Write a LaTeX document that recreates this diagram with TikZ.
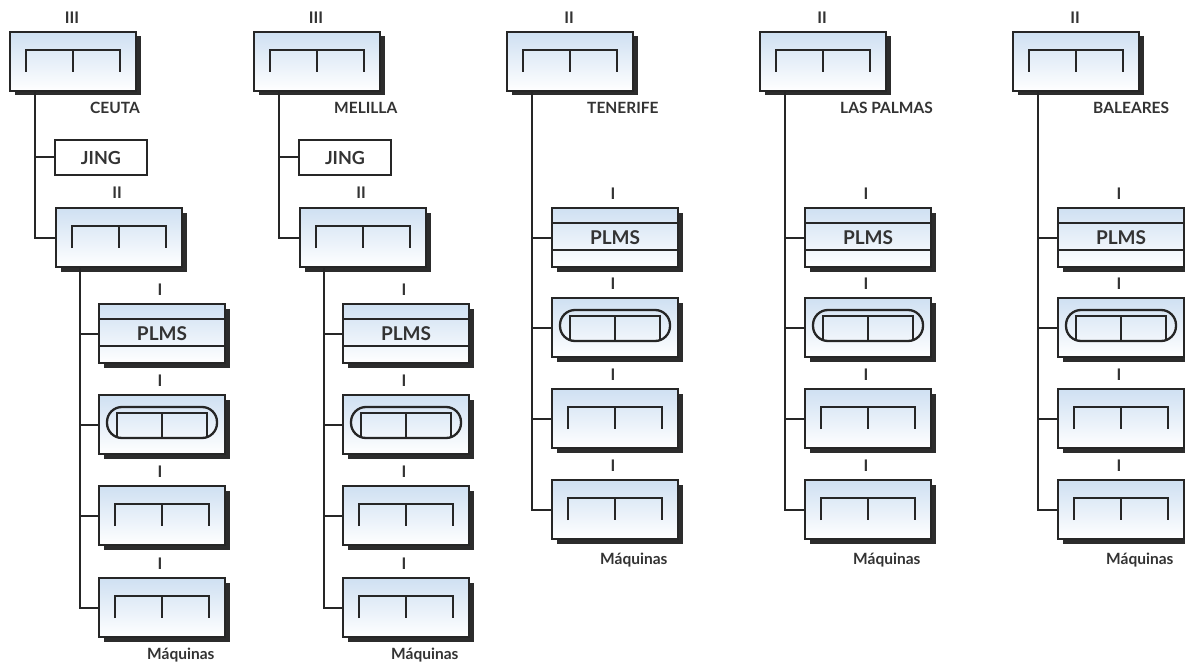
\documentclass[tikz,border=0pt]{standalone}
\usepackage{fontspec}
\setmainfont{Lato}
\usetikzlibrary{shadows}

\definecolor{ln}{HTML}{262626}
\definecolor{shd}{HTML}{2C2C2C}
\definecolor{txt}{HTML}{333333}
\definecolor{boxblue}{HTML}{CFE0F2}

\tikzset{
  unitbox/.style={draw=ln, line width=2pt, minimum width=126pt, minimum height=59pt,
    inner sep=0pt, top color=boxblue, bottom color=white,
    drop shadow={shadow xshift=4.5pt, shadow yshift=-4.5pt, fill=shd, opacity=1}},
  jingbox/.style={draw=ln, line width=1.8pt, fill=white, minimum width=92pt,
    minimum height=35pt, inner sep=0pt, text=txt, font=\fontsize{18}{21}\selectfont\bfseries},
  conn/.style={draw=ln, line width=2pt},
  brk/.style={draw=ln, line width=2.3pt},
  rank/.style={text=txt, inner sep=0pt, font=\fontsize{16}{19}\selectfont\bfseries},
  place/.style={text=txt, inner sep=0pt, anchor=west, font=\fontsize{15.5}{18}\selectfont\bfseries},
  plmstext/.style={text=txt, font=\fontsize{19}{22}\selectfont\bfseries}
}

% bracket symbol inside a unit box
\newcommand{\brk}[1]{%
  \draw[brk] ([xshift=17pt,yshift=-41pt]#1.north west) |- ([xshift=-17pt,yshift=-19pt]#1.north east)
             -- ([xshift=-17pt,yshift=-41pt]#1.north east);
  \draw[brk] ([yshift=-19pt]#1.north) -- ([yshift=-41pt]#1.north);}

% bracket enclosed by a rounded outline
\newcommand{\stad}[1]{%
  \draw[brk, rounded corners=15pt] ([xshift=9pt,yshift=-13pt]#1.north west) rectangle ([xshift=-9pt,yshift=-44pt]#1.north east);
  \draw[brk] ([xshift=19pt,yshift=-43pt]#1.north west) |- ([xshift=-19pt,yshift=-19pt]#1.north east)
             -- ([xshift=-19pt,yshift=-43pt]#1.north east);
  \draw[brk] ([yshift=-19pt]#1.north) -- ([yshift=-43pt]#1.north);}

% lines of a PLMS box
\newcommand{\plms}[1]{%
  \draw[brk, line width=1.8pt] ([yshift=-16pt]#1.north west) -- ([yshift=-16pt]#1.north east);
  \draw[brk, line width=1.8pt] ([yshift=-43pt]#1.north west) -- ([yshift=-43pt]#1.north east);}

% column with a JING unit and a second level
\newcommand{\colA}[4]{%
  \node[unitbox] (#1t) at (#2+63, 61.5) {};
  \brk{#1t}
  \node[rank] (#1tn) at (#2+62, 18) {#3};
  \node[place] (#1c) at (#2+80, 108) {#4};
  \node[jingbox] (#1j) at (#2+91, 157.5) {JING};
  \node[rank] (#1sn) at (#2+107, 193) {II};
  \node[unitbox] (#1s) at (#2+109, 237.5) {};
  \brk{#1s}
  \node[unitbox] (#1p) at (#2+152, 333.5) {};
  \plms{#1p}
  \node[plmstext] at (#1p) {PLMS};
  \node[unitbox] (#1r) at (#2+152, 424.5) {};
  \stad{#1r}
  \node[unitbox] (#1a) at (#2+152, 515.5) {};
  \brk{#1a}
  \node[unitbox] (#1b) at (#2+152, 607.5) {};
  \brk{#1b}
  \node[rank] (#1pn) at (#2+150, 290) {I};
  \node[rank] (#1rn) at (#2+150, 381) {I};
  \node[rank] (#1an) at (#2+150, 472) {I};
  \node[rank] (#1bn) at (#2+150, 564) {I};
  \node[place] (#1m) at (#2+137, 655) {Máquinas};
  \coordinate (#1k) at ([xshift=26pt]#1t.south west);
  \draw[conn] (#1k) |- (#1s.west);
  \draw[conn] (#1k |- #1j.west) -- (#1j.west);
  \coordinate (#1q) at ([xshift=25pt]#1s.south west);
  \draw[conn] (#1q) |- (#1b.west);
  \draw[conn] (#1q |- #1p.west) -- (#1p.west);
  \draw[conn] (#1q |- #1r.west) -- (#1r.west);
  \draw[conn] (#1q |- #1a.west) -- (#1a.west);
}

% column with a single level
\newcommand{\colB}[3]{%
  \node[unitbox] (#1t) at (#2+63, 61.5) {};
  \brk{#1t}
  \node[rank] (#1tn) at (#2+62, 18) {II};
  \node[place] (#1c) at (#2+80, 108) {#3};
  \node[unitbox] (#1p) at (#2+108, 237.5) {};
  \plms{#1p}
  \node[plmstext] at (#1p) {PLMS};
  \node[unitbox] (#1r) at (#2+108, 327.5) {};
  \stad{#1r}
  \node[unitbox] (#1a) at (#2+108, 418.5) {};
  \brk{#1a}
  \node[unitbox] (#1b) at (#2+108, 509.5) {};
  \brk{#1b}
  \node[rank] (#1pn) at (#2+106, 194) {I};
  \node[rank] (#1rn) at (#2+106, 284) {I};
  \node[rank] (#1an) at (#2+106, 375) {I};
  \node[rank] (#1bn) at (#2+106, 466) {I};
  \node[place] (#1m) at (#2+93, 560) {Máquinas};
  \coordinate (#1k) at ([xshift=26pt]#1t.south west);
  \draw[conn] (#1k) |- (#1b.west);
  \draw[conn] (#1k |- #1p.west) -- (#1p.west);
  \draw[conn] (#1k |- #1r.west) -- (#1r.west);
  \draw[conn] (#1k |- #1a.west) -- (#1a.west);
}

\begin{document}
\begin{tikzpicture}[x=1pt, y=-1pt]
  \useasboundingbox[fill=white] (0,0) rectangle (1185,663);
  \colA{ce}{10}{III}{CEUTA}
  \colA{me}{254}{III}{MELILLA}
  \colB{te}{507}{TENERIFE}
  \colB{lp}{760}{LAS PALMAS}
  \colB{ba}{1013}{BALEARES}
\end{tikzpicture}
\end{document}
